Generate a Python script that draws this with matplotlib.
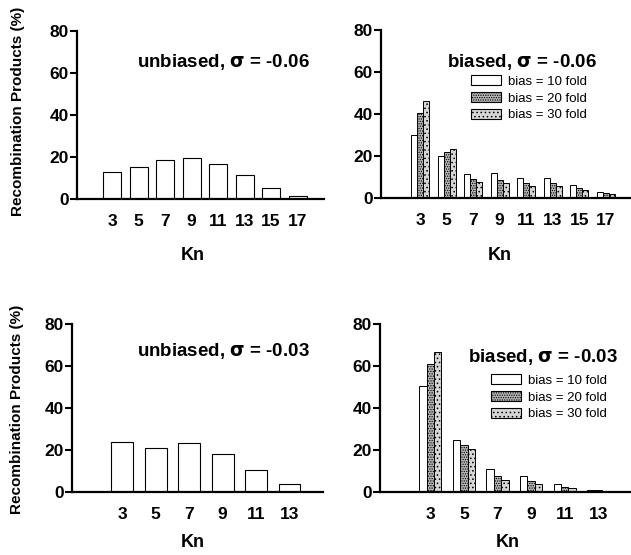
import numpy as np
import matplotlib
matplotlib.use('Agg')
import matplotlib.pyplot as plt
from matplotlib.patches import Patch

plt.rcParams['font.family'] = ['Liberation Sans', 'DejaVu Sans']
plt.rcParams['hatch.linewidth'] = 0.6

# sigma = -0.06
kn_a = [3, 5, 7, 9, 11, 13, 15, 17]
unb_a = [12.7, 15.1, 18.6, 19.5, 16.8, 11.3, 5.2, 1.4]
b10_a = [29.8, 20.0, 11.4, 11.7, 9.7, 9.5, 6.3, 2.7]
b20_a = [40.3, 22.0, 9.0, 8.6, 7.3, 7.3, 4.8, 2.2]
b30_a = [46.3, 23.2, 7.6, 7.1, 5.9, 5.7, 3.7, 1.8]

# sigma = -0.03
kn_b = [3, 5, 7, 9, 11, 13]
unb_b = [23.8, 21.0, 23.3, 17.9, 10.6, 3.7]
b10_b = [50.5, 24.6, 11.1, 7.5, 3.7, 1.1]
b20_b = [60.8, 22.5, 7.6, 5.1, 2.4, 0.8]
b30_b = [66.5, 20.6, 5.9, 3.7, 1.8, 0.6]

labels = ['bias = 10 fold', 'bias = 20 fold', 'bias = 30 fold']
fills = ['white', '#b4b4b4', '#d6d6d6']
hatches = [None, '.......', '....']

W, H = 631, 555
fig = plt.figure(figsize=(W / 100, H / 100), dpi=100)


def box(l, r, t, b):
    return [l / W, 1 - b / H, (r - l) / W, (b - t) / H]


def style(ax, xlim, kn_pos, ylab_pos=None):
    ax.set_xlim(*xlim)
    ax.set_ylim(0, 80)
    ax.set_yticks([0, 20, 40, 60, 80])
    for s in ['top', 'right']:
        ax.spines[s].set_visible(False)
    for s in ['left', 'bottom']:
        ax.spines[s].set_linewidth(1.6)
    ax.tick_params(axis='y', direction='out', length=5, width=1.5, labelsize=12.5, pad=1)
    ax.tick_params(axis='x', length=0, labelsize=12.5, pad=11)
    for t in ax.get_xticklabels() + ax.get_yticklabels():
        t.set_fontweight('bold')
    ax.set_xlabel('Kn', fontsize=13, fontweight='bold')
    ax.xaxis.set_label_coords(*kn_pos)
    ax.xaxis.label.set_va('center')
    if ylab_pos:
        ax.set_ylabel('Recombination Products (%)', fontsize=11, fontweight='bold')
        ax.yaxis.set_label_coords(*ylab_pos)
        ax.yaxis.label.set_va('center')


def unbiased(ax, kn, vals, w):
    ax.bar(kn, vals, width=w, color='white', edgecolor='black', linewidth=0.8)
    ax.set_xticks(kn)


def biased(ax, kn, series, w):
    kn = np.array(kn)
    for i, vals in enumerate(series):
        ax.bar(kn + (i - 1) * w, vals, width=w, color=fills[i], hatch=hatches[i],
               edgecolor='black', linewidth=0.7)
    ax.set_xticks(kn)


def legend(ax, x, y):
    handles = [Patch(facecolor=fills[i], hatch=hatches[i], edgecolor='black', linewidth=0.8)
               for i in range(3)]
    ax.legend(handles, labels, loc='upper left', bbox_to_anchor=(x, y), frameon=False,
              fontsize=9.5, handlelength=2.3, handleheight=0.75, labelspacing=0.33,
              handletextpad=0.5, borderpad=0, borderaxespad=0)


ax1 = fig.add_axes(box(77, 324, 31, 199))
unbiased(ax1, kn_a, unb_a, 1.36)
style(ax1, (0.35, 19.0), (0.47, -0.339), (-0.239, 0.524))
ax1.text(17.94, 65.2, 'unbiased, $\\mathbf{\\sigma}$ = -0.06', ha='right', va='center',
         fontsize=13.5, fontweight='bold')

ax2 = fig.add_axes(box(381, 631, 30, 198))
biased(ax2, kn_a, [b10_a, b20_a, b30_a], 0.45)
style(ax2, (0.06, 18.9), (0.476, -0.345))
ax2.text(16.35, 64.8, 'biased, $\\mathbf{\\sigma}$ = -0.06', ha='right', va='center',
         fontsize=13.5, fontweight='bold')
legend(ax2, 0.36, 0.73)

ax3 = fig.add_axes(box(72, 323, 324, 492))
unbiased(ax3, kn_b, unb_b, 1.31)
style(ax3, (0, 15), (0.482, -0.303), (-0.219, 0.493))
ax3.text(14.2, 67.1, 'unbiased, $\\mathbf{\\sigma}$ = -0.03', ha='right', va='center',
         fontsize=13.5, fontweight='bold')

ax4 = fig.add_axes(box(380, 631, 324, 492))
biased(ax4, kn_b, [b10_b, b20_b, b30_b], 0.44)
style(ax4, (0, 14.95), (0.51, -0.303))
ax4.text(14.17, 64.3, 'biased, $\\mathbf{\\sigma}$ = -0.03', ha='right', va='center',
         fontsize=13.5, fontweight='bold')
legend(ax4, 0.442, 0.70)

fig.savefig('out.png', dpi=100)
